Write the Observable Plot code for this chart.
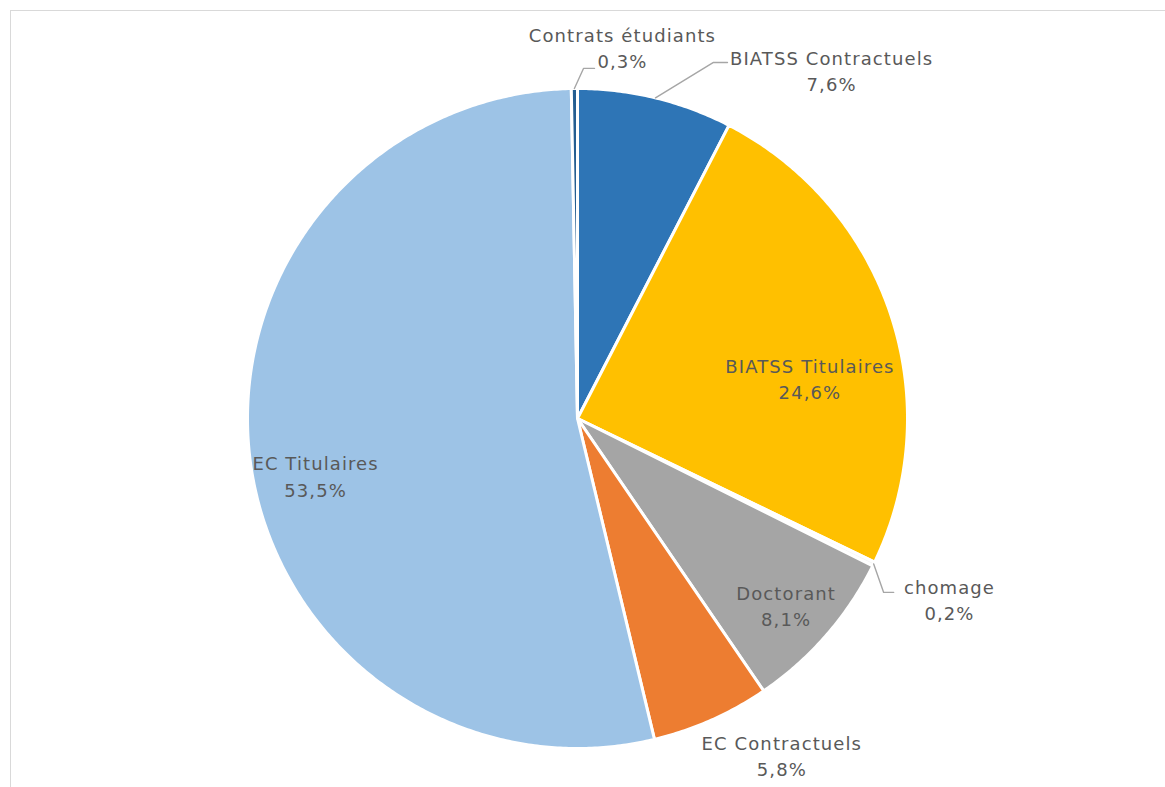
<!DOCTYPE html>
<html>
<head>
<meta charset="utf-8">
<script src="https://cdn.jsdelivr.net/npm/d3@7"></script>
<script src="https://cdn.jsdelivr.net/npm/@observablehq/plot@0.6"></script>
<style>
  html, body { margin: 0; padding: 0; background: #fff; }
  #wrap { position: relative; width: 1165px; height: 787px; overflow: hidden; }
  #border { position: absolute; left: 10px; top: 10px; width: 1200px; height: 900px;
            border-left: 1.5px solid #D9D9D9; border-top: 1.5px solid #D9D9D9; }
  #chart { position: absolute; left: 0; top: 0; }
  #chart text { letter-spacing: 1.1px; }
</style>
</head>
<body>
<div id="wrap"><div id="border"></div><div id="chart"></div></div>
<script>
// ---- data ----
const categories = ["BIATSS Contractuels", "BIATSS Titulaires", "chomage", "Doctorant", "EC Contractuels", "EC Titulaires", "Contrats étudiants"];
const values = [7.6, 24.6, 0.2, 8.1, 5.8, 53.5, 0.3];
const colors = ["#2E75B6", "#FFC000", "#F7F7F7", "#A5A5A5", "#ED7D31", "#9DC3E6", "#255E91"];

// ---- layout (label placement in polar form: degrees clockwise from top, radius factor) ----
const labelAngle  = [36.1, 80.1, 115.8, 131.8, 148.7, 257.8, 6.9];
const labelRadius = [1.307, 0.715, 1.252, 0.848, 1.192, 0.812, 1.134];
const leaderCats   = ["BIATSS Contractuels", "chomage", "Contrats étudiants"];
const leaderAngle  = [20.9, 119.6, 0.98];
const leaderRadius = [1.155, 1.067, 1.061];
const leaderTail   = [14, 10, 11];

const R = 330, CX = 577, CY = 418, W = 1165, H = 787;
const rad = (deg) => deg * Math.PI / 180;
const fmt = (v) => d3.format(".1f")(v).replace(".", ",") + "%";

const arcs = d3.pie().sort(null).value(d => d)(values);

// polygon points for each slice (data units, radius = 1)
const slicePts = [];
arcs.forEach((a, i) => {
  const name = categories[i];
  slicePts.push({name, x: 0, y: 0});
  const n = Math.max(2, Math.ceil((a.endAngle - a.startAngle) / rad(0.5)));
  for (let k = 0; k <= n; k++) {
    const t = a.startAngle + (a.endAngle - a.startAngle) * k / n;
    slicePts.push({name, x: Math.sin(t), y: Math.cos(t)});
  }
});

const labels = categories.map((c, i) => ({
  text: c + "\n" + fmt(values[i]),
  x: labelRadius[i] * Math.sin(rad(labelAngle[i])),
  y: labelRadius[i] * Math.cos(rad(labelAngle[i]))
}));

const leaderPts = [];
leaderCats.forEach((c, j) => {
  const a = arcs[categories.indexOf(c)];
  const mid = (a.startAngle + a.endAngle) / 2;
  const ex = leaderRadius[j] * Math.sin(rad(leaderAngle[j]));
  const ey = leaderRadius[j] * Math.cos(rad(leaderAngle[j]));
  leaderPts.push({name: c, x: Math.sin(mid), y: Math.cos(mid)});
  leaderPts.push({name: c, x: ex, y: ey});
  leaderPts.push({name: c, x: ex + leaderTail[j] / R, y: ey});
});

const chart = Plot.plot({
  width: W, height: H, margin: 0,
  x: {domain: [-CX / R, (W - CX) / R], axis: null},
  y: {domain: [-(H - CY) / R, CY / R], axis: null},
  color: {domain: categories, range: colors},
  style: {background: "transparent"},
  marks: [
    Plot.line(slicePts, {x: "x", y: "y", z: "name", fill: "name", stroke: "white",
      strokeWidth: 3, strokeLinejoin: "round", curve: "linear-closed"}),
    Plot.line(leaderPts, {x: "x", y: "y", z: "name", stroke: "#A6A6A6", strokeWidth: 1.4}),
    Plot.text(labels, {x: "x", y: "y", text: "text", fill: "#595959", fontSize: 18,
      lineHeight: 1.45, fontFamily: "DejaVu Sans", textAnchor: "middle"})
  ]
});
document.getElementById("chart").appendChild(chart);
</script>
</body>
</html>
